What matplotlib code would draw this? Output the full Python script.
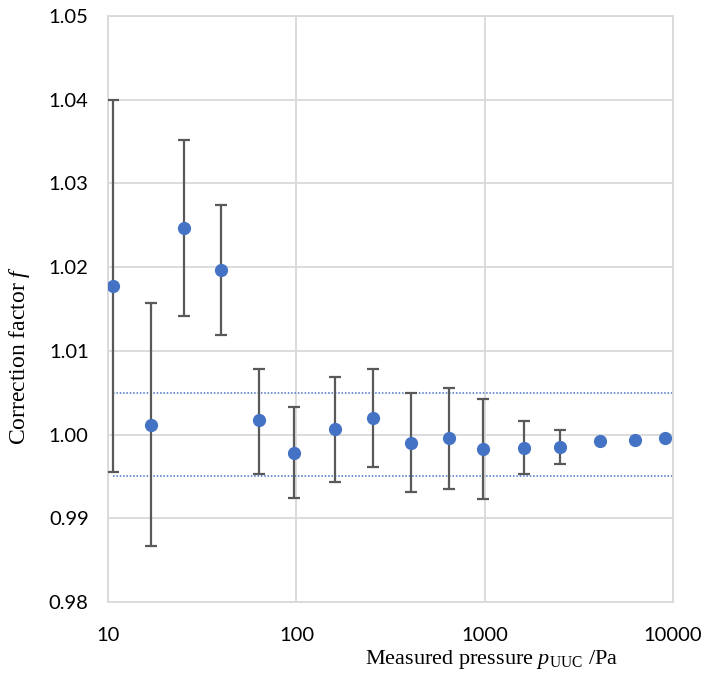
import matplotlib.pyplot as plt
from matplotlib.ticker import FixedLocator, FixedFormatter, NullLocator

# measured pressure (Pa) and correction factor
pressure = [10.6, 16.9, 25.4, 39.6, 63.2, 97.3, 161, 255, 405, 647, 979,
            1620, 2518, 4074, 6270, 9100]
factor = [1.0177, 1.0012, 1.0247, 1.0197, 1.0017, 0.9978, 1.0007, 1.0020,
          0.9990, 0.9996, 0.9983, 0.9984, 0.9985, 0.9992, 0.9994, 0.9996]
err_up = [1.0400, 1.0157, 1.0352, 1.0274, 1.0078, 1.0033, 1.0069, 1.0078,
          1.0050, 1.0056, 1.0043, 1.0016, 1.0005, None, None, None]
err_lo = [0.9955, 0.9867, 1.0142, 1.0119, 0.9953, 0.9924, 0.9943, 0.9961,
          0.9931, 0.9935, 0.9923, 0.9953, 0.9965, None, None, None]
band = [1.005, 0.995]

xticks = [10, 100, 1000, 10000]
xtick_labels = ['10', '100', '1000', '10000']
yticks = [0.98, 0.99, 1.00, 1.01, 1.02, 1.03, 1.04, 1.05]

tick_font = 'Lato'
serif = 'Liberation Serif'
plt.rcParams['mathtext.fontset'] = 'custom'
plt.rcParams['mathtext.rm'] = serif
plt.rcParams['mathtext.it'] = serif + ':italic'

fig = plt.figure(figsize=(7.07, 6.79), dpi=100)
ax = fig.add_axes([0.153, 0.1134, 0.799, 0.863])

# error bars only where available
ex, ey, lo, hi = [], [], [], []
for x, y, u, l in zip(pressure, factor, err_up, err_lo):
    if u is not None:
        ex.append(x)
        ey.append(y)
        hi.append(u - y)
        lo.append(y - l)
ax.errorbar(ex, ey, yerr=[lo, hi], fmt='none', ecolor='#595959',
            elinewidth=1.6, capsize=4, capthick=1.6, zorder=3)
ax.plot(pressure, factor, 'o', color='#4472C4', markersize=8.5, zorder=4)

for b in band:
    ax.plot([pressure[0], 10000], [b, b], linestyle=(0, (1, 1.2)),
            color='#4472C4', linewidth=1.1, zorder=2)

ax.set_xscale('log')
ax.set_xlim(10, 10000)
ax.set_ylim(0.98, 1.05)
ax.xaxis.set_major_locator(FixedLocator(xticks))
ax.xaxis.set_major_formatter(FixedFormatter(xtick_labels))
ax.xaxis.set_minor_locator(NullLocator())
ax.set_yticks(yticks)
ax.set_yticklabels([f'{v:.2f}' for v in yticks])

ax.grid(True, color='#d9d9d9', linewidth=1.3, zorder=0)
ax.set_axisbelow(True)
for s in ax.spines.values():
    s.set_color('#d9d9d9')
    s.set_linewidth(1.3)
ax.tick_params(length=0, labelsize=14.5, colors='black')
ax.tick_params(axis='x', pad=18)
ax.tick_params(axis='y', pad=14)
for lab in ax.get_xticklabels() + ax.get_yticklabels():
    lab.set_fontfamily(tick_font)

ax.set_ylabel(r'Correction factor $f$', fontsize=17, family=serif)
ax.yaxis.set_label_coords(-0.135, 0.42)
ax.set_xlabel(r'Measured pressure $p_{\mathrm{UUC}}$ /Pa', fontsize=16,
              family=serif)
ax.xaxis.set_label_coords(0.678, -0.078)

fig.savefig('out.png', dpi=100)
